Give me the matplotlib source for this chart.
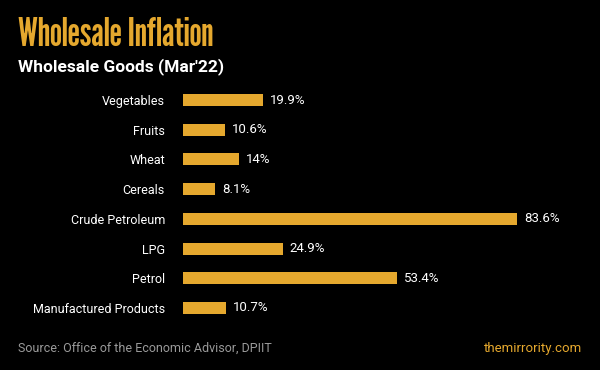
import matplotlib
matplotlib.use("Agg")
import matplotlib.pyplot as plt

categories = ["Vegetables", "Fruits", "Wheat", "Cereals", "Crude Petroleum",
              "LPG", "Petrol", "Manufactured Products"]
values = [19.9, 10.6, 14, 8.1, 83.6, 24.9, 53.4, 10.7]
value_labels = ["19.9%", "10.6%", "14%", "8.1%", "83.6%", "24.9%", "53.4%", "10.7%"]

BG = "#000000"
GOLD = "#E5A82E"

W, H = 600, 370
fig = plt.figure(figsize=(6, 3.7), dpi=100, facecolor=BG)

ax = fig.add_axes([183 / W, 1 - 322.85 / H, 400 / W, 237.7 / H])
ax.set_facecolor(BG)
y = list(range(len(categories)))
ax.barh(y, values, height=0.4, color=GOLD)
ax.set_xlim(0, 100)
ax.set_ylim(len(categories) - 0.5, -0.5)
for s in ax.spines.values():
    s.set_visible(False)
ax.set_xticks([])
ax.set_yticks(y)
ax.set_yticklabels(categories, family="Roboto", fontsize=9, color="white")
ax.tick_params(axis="y", length=0, pad=13)
for yi, v, lab in zip(y, values, value_labels):
    ax.annotate(lab, (v, yi), xytext=(5, 0), textcoords="offset points",
                va="center", ha="left", color="white", family="Roboto", fontsize=9.5)

fig.text(18 / W, 1 - 46 / H, "Wholesale Inflation", color=GOLD, family="League Gothic",
         fontsize=28, va="baseline")
fig.text(18 / W, 1 - 71 / H, "Wholesale Goods (Mar'22)", color="white", family="Roboto",
         fontweight="bold", fontsize=12.5, va="baseline")
fig.text(18 / W, 1 - 352 / H, "Source: Office of the Economic Advisor, DPIIT", color="#9a9a9a",
         family="Roboto", fontsize=9, va="baseline")
fig.text(582 / W, 1 - 352 / H, "themirrority.com", color=GOLD,
         family="Roboto", fontsize=9.5, va="baseline", ha="right")

fig.savefig("out.png", dpi=100, facecolor=BG)
